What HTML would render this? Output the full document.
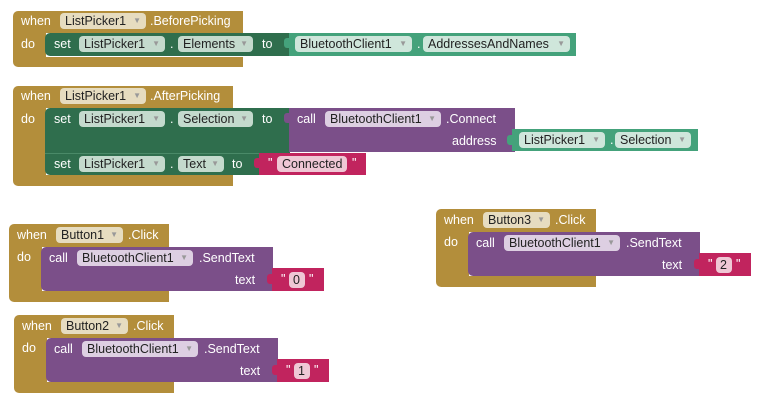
<!DOCTYPE html>
<html><head><meta charset="utf-8"><style>
*{margin:0;padding:0;box-sizing:border-box}
body{width:768px;height:404px;background:#fff;position:relative;overflow:hidden;font-family:"Liberation Sans",sans-serif;font-size:12.5px;color:#fff}
.r{position:absolute}
.gold{background:#b38e3b}
.grn{background:#2f6e4d}
.tea{background:#44a27b}
.pur{background:#7b4f89}
.pnk{background:#c1245e}
.t{position:absolute;line-height:16px;white-space:nowrap}
.f{position:absolute;height:16px;line-height:16px;border-radius:4px;color:#222;padding-left:5px;white-space:nowrap}
.f i{font-style:normal;font-size:8px;color:#999;position:absolute;right:5px;top:0}
.fg{background:#e6dcc0}
.fgr{background:#c4dacd}
.ft{background:#cfe6db}
.fp{background:#ddcfe2}
.fk{background:#efc7d5}
.tab{position:absolute;width:6px;height:10px;border-radius:3px 0 0 3px}
</style></head><body>

<!-- Block 1 -->
<div class="r gold" style="left:13px;top:11px;width:230px;height:22px;border-radius:5px 0 0 0"></div>
<div class="r gold" style="left:13px;top:32px;width:33px;height:30px"></div>
<div class="r gold" style="left:13px;top:57px;width:230px;height:10px;border-radius:0 0 0 5px"></div>
<div class="t" style="left:21px;top:13px">when</div>
<div class="f fg" style="left:60px;top:13px;width:86px">ListPicker1<i>▼</i></div>
<div class="t" style="left:150px;top:13px">.BeforePicking</div>
<div class="t" style="left:21px;top:36px">do</div>
<div class="r grn" style="left:45px;top:33px;width:246px;height:23px;border-radius:5px 0 0 5px"></div>
<div class="t" style="left:54px;top:36px">set</div>
<div class="f fgr" style="left:79px;top:36px;width:86px">ListPicker1<i>▼</i></div>
<div class="t" style="left:170px;top:36px">.</div>
<div class="f fgr" style="left:178px;top:36px;width:75px">Elements<i>▼</i></div>
<div class="t" style="left:262px;top:36px">to</div>
<div class="r tea" style="left:289px;top:33px;width:287px;height:23px"></div>
<div class="tab tea" style="left:284px;top:38px"></div>
<div class="f ft" style="left:295px;top:36px;width:117px">BluetoothClient1<i>▼</i></div>
<div class="t" style="left:417px;top:36px">.</div>
<div class="f ft" style="left:423px;top:36px;width:147px">AddressesAndNames<i>▼</i></div>

<!-- Block 2 -->
<div class="r gold" style="left:13px;top:86px;width:220px;height:22px;border-radius:5px 0 0 0"></div>
<div class="r gold" style="left:13px;top:107px;width:33px;height:70px"></div>
<div class="r gold" style="left:13px;top:175px;width:220px;height:11px;border-radius:0 0 0 5px"></div>
<div class="t" style="left:21px;top:88px">when</div>
<div class="f fg" style="left:60px;top:88px;width:86px">ListPicker1<i>▼</i></div>
<div class="t" style="left:150px;top:88px">.AfterPicking</div>
<div class="t" style="left:21px;top:111px">do</div>
<div class="r grn" style="left:45px;top:108px;width:245px;height:45px;border-radius:5px 0 0 0"></div>
<div class="t" style="left:54px;top:111px">set</div>
<div class="f fgr" style="left:79px;top:111px;width:86px">ListPicker1<i>▼</i></div>
<div class="t" style="left:170px;top:111px">.</div>
<div class="f fgr" style="left:178px;top:111px;width:75px">Selection<i>▼</i></div>
<div class="t" style="left:262px;top:111px">to</div>
<div class="r pur" style="left:289px;top:108px;width:226px;height:44px"></div>
<div class="tab pur" style="left:284px;top:113px"></div>
<div class="t" style="left:297px;top:111px">call</div>
<div class="f fp" style="left:325px;top:111px;width:116px">BluetoothClient1<i>▼</i></div>
<div class="t" style="left:446px;top:111px">.Connect</div>
<div class="t" style="left:452px;top:133px">address</div>
<div class="r tea" style="left:512px;top:129px;width:186px;height:22px"></div>
<div class="tab tea" style="left:507px;top:135px"></div>
<div class="f ft" style="left:519px;top:132px;width:86px">ListPicker1<i>▼</i></div>
<div class="t" style="left:610px;top:132px">.</div>
<div class="f ft" style="left:615px;top:132px;width:76px">Selection<i>▼</i></div>
<div class="r grn" style="left:45px;top:153px;width:215px;height:22px;border-radius:0 0 0 5px;border-top:1px solid #4a8a68"></div>
<div class="t" style="left:54px;top:156px">set</div>
<div class="f fgr" style="left:79px;top:156px;width:86px">ListPicker1<i>▼</i></div>
<div class="t" style="left:170px;top:156px">.</div>
<div class="f fgr" style="left:178px;top:156px;width:46px">Text<i>▼</i></div>
<div class="t" style="left:232px;top:156px">to</div>
<div class="r pnk" style="left:259px;top:153px;width:107px;height:22px"></div>
<div class="tab pnk" style="left:254px;top:158px"></div>
<div class="t" style="left:268px;top:155px">"</div>
<div class="f fk" style="left:277px;top:156px;width:70px">Connected</div>
<div class="t" style="left:352px;top:155px">"</div>

<!-- Button1 -->
<div class="r gold" style="left:9px;top:224px;width:160px;height:23px;border-radius:5px 0 0 0"></div>
<div class="r gold" style="left:9px;top:246px;width:33px;height:48px"></div>
<div class="r gold" style="left:9px;top:291px;width:160px;height:11px;border-radius:0 0 0 5px"></div>
<div class="t" style="left:17px;top:227px">when</div>
<div class="f fg" style="left:56px;top:227px;width:67px">Button1<i>▼</i></div>
<div class="t" style="left:128px;top:227px">.Click</div>
<div class="t" style="left:17px;top:249px">do</div>
<div class="r pur" style="left:41px;top:247px;width:232px;height:44px;border-radius:5px 0 0 5px"></div>
<div class="t" style="left:49px;top:250px">call</div>
<div class="f fp" style="left:77px;top:250px;width:116px">BluetoothClient1<i>▼</i></div>
<div class="t" style="left:199px;top:250px">.SendText</div>
<div class="t" style="left:235px;top:272px">text</div>
<div class="r pnk" style="left:272px;top:268px;width:52px;height:23px"></div>
<div class="tab pnk" style="left:267px;top:274px"></div>
<div class="t" style="left:281px;top:271px">"</div>
<div class="f fk" style="left:289px;top:272px;width:16px;padding-left:4px">0</div>
<div class="t" style="left:309px;top:271px">"</div>

<!-- Button2 -->
<div class="r gold" style="left:14px;top:315px;width:160px;height:23px;border-radius:5px 0 0 0"></div>
<div class="r gold" style="left:14px;top:337px;width:33px;height:48px"></div>
<div class="r gold" style="left:14px;top:382px;width:160px;height:11px;border-radius:0 0 0 5px"></div>
<div class="t" style="left:22px;top:318px">when</div>
<div class="f fg" style="left:61px;top:318px;width:67px">Button2<i>▼</i></div>
<div class="t" style="left:133px;top:318px">.Click</div>
<div class="t" style="left:22px;top:340px">do</div>
<div class="r pur" style="left:46px;top:338px;width:232px;height:44px;border-radius:5px 0 0 5px"></div>
<div class="t" style="left:54px;top:341px">call</div>
<div class="f fp" style="left:82px;top:341px;width:116px">BluetoothClient1<i>▼</i></div>
<div class="t" style="left:204px;top:341px">.SendText</div>
<div class="t" style="left:240px;top:363px">text</div>
<div class="r pnk" style="left:277px;top:359px;width:52px;height:23px"></div>
<div class="tab pnk" style="left:272px;top:365px"></div>
<div class="t" style="left:286px;top:362px">"</div>
<div class="f fk" style="left:294px;top:363px;width:16px;padding-left:4px">1</div>
<div class="t" style="left:314px;top:362px">"</div>

<!-- Button3 -->
<div class="r gold" style="left:436px;top:209px;width:160px;height:23px;border-radius:5px 0 0 0"></div>
<div class="r gold" style="left:436px;top:231px;width:33px;height:48px"></div>
<div class="r gold" style="left:436px;top:276px;width:160px;height:11px;border-radius:0 0 0 5px"></div>
<div class="t" style="left:444px;top:212px">when</div>
<div class="f fg" style="left:483px;top:212px;width:67px">Button3<i>▼</i></div>
<div class="t" style="left:555px;top:212px">.Click</div>
<div class="t" style="left:444px;top:234px">do</div>
<div class="r pur" style="left:468px;top:232px;width:232px;height:44px;border-radius:5px 0 0 5px"></div>
<div class="t" style="left:476px;top:235px">call</div>
<div class="f fp" style="left:504px;top:235px;width:116px">BluetoothClient1<i>▼</i></div>
<div class="t" style="left:626px;top:235px">.SendText</div>
<div class="t" style="left:662px;top:257px">text</div>
<div class="r pnk" style="left:699px;top:253px;width:52px;height:23px"></div>
<div class="tab pnk" style="left:694px;top:259px"></div>
<div class="t" style="left:708px;top:256px">"</div>
<div class="f fk" style="left:716px;top:257px;width:16px;padding-left:4px">2</div>
<div class="t" style="left:736px;top:256px">"</div>

</body></html>
